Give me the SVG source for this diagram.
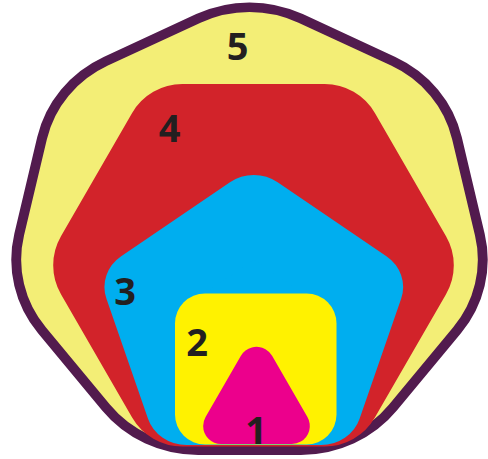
<svg xmlns="http://www.w3.org/2000/svg" width="488" height="459" viewBox="0 0 488 459">
<style>
.rnd{stroke-linejoin:round}
.lbl{font-family:"Open Sans","Liberation Sans",sans-serif;font-weight:bold;font-size:38px;fill:#231f20;text-anchor:middle}
</style>
<rect width="488" height="459" fill="#ffffff"/>
<g id="node5">
<g transform="translate(249.5,234.3) scale(1.04,1)">
<polygon class="rnd" points="0,-113.9 89.05,-71.01 111.04,25.34 49.42,102.62 -49.42,102.62 -111.04,25.34 -89.05,-71.01" fill="#521b4e" stroke="#521b4e" stroke-width="236"/>
<polygon class="rnd" points="0,-113.9 89.05,-71.01 111.04,25.34 49.42,102.62 -49.42,102.62 -111.04,25.34 -89.05,-71.01" fill="#f3ee76" stroke="#f3ee76" stroke-width="217"/>
</g>
<text class="lbl" x="237.5" y="59.5">5</text>
</g>
<g id="node4">
<polygon class="rnd" points="111.2,265.25 182.35,142 324.65,142 395.8,265.25 324.65,388.5 182.35,388.5" fill="#d2232a" stroke="#d2232a" stroke-width="116"/>
<text class="lbl" x="169.5" y="142">4</text>
</g>
<g id="node3">
<g transform="translate(253.8,320.2) scale(1.067,1)">
<polygon class="rnd" points="0,-107.2 101.95,-33.13 63.01,86.73 -63.01,86.73 -101.95,-33.13" fill="#00aeef" stroke="#00aeef" stroke-width="76"/>
</g>
<text class="lbl" x="125" y="305">3</text>
</g>
<g id="node2">
<rect x="175" y="293.5" width="161.5" height="151" rx="30" ry="30" fill="#fff200"/>
<text class="lbl" x="197" y="356">2</text>
</g>
<g id="node1">
<polygon class="rnd" points="256.5,364.8 291.83,426 221.17,426" fill="#ec008c" stroke="#ec008c" stroke-width="36"/>
<text class="lbl" x="256" y="444">1</text>
</g>
<g id="connectors"/>
</svg>
